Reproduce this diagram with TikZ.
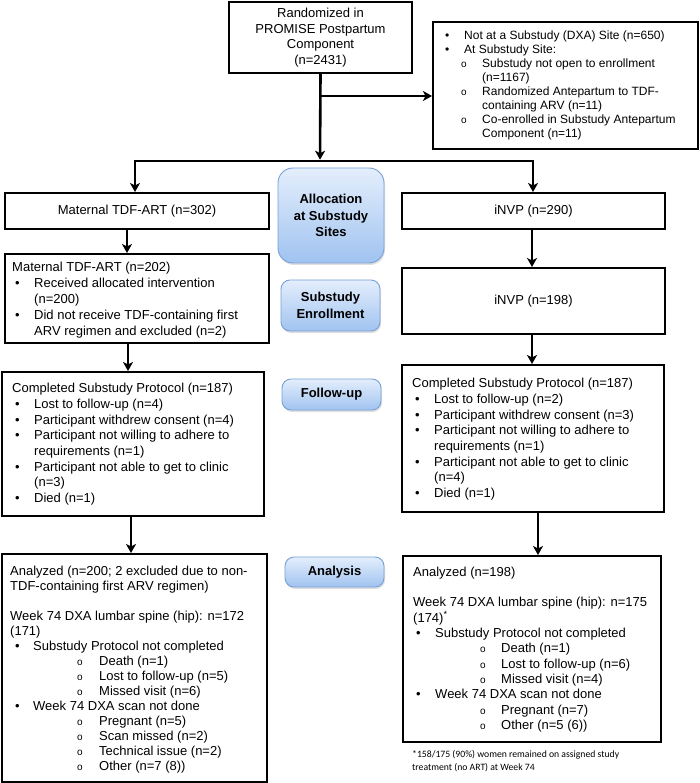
\documentclass[tikz,border=0pt]{standalone}
\usepackage{fontspec}
\setmainfont{Liberation Sans}
\newfontfamily\fnfont{Carlito}
\usetikzlibrary{arrows.meta,shadows}
\definecolor{bluetop}{RGB}{228,238,252}
\definecolor{bluebot}{RGB}{160,195,240}
\definecolor{blueedge}{RGB}{120,160,215}
\newcommand{\pbul}[2]{\hspace*{#1}\makebox[#2][l]{\textbullet}}
\newcommand{\psub}[2]{\hspace*{#1}\makebox[#2][l]{\fontsize{10}{10}\selectfont o}}
\tikzset{
  box/.style={draw, line width=2pt, inner sep=0pt, font=\fontsize{13}{15.5}\selectfont, align=center},
  txt/.style={anchor=north west, inner sep=0pt, align=left},
  lbl/.style={draw=blueedge, line width=0.9pt, rounded corners=9pt, top color=bluetop, bottom color=bluebot,
    font=\bfseries\fontsize{13}{16.7}\selectfont, align=center, inner sep=0pt,
    drop shadow={opacity=0.25, shadow xshift=1pt, shadow yshift=-2pt}},
  arr/.style={line width=2.6pt, -{Stealth[length=9pt,width=10pt,inset=2.5pt]}},
}
\begin{document}
\begin{tikzpicture}[x=1pt,y=-1pt]
\useasboundingbox (0,0) rectangle (700,783);

% boxes
\node[box, minimum width=183pt, minimum height=71pt] (top) at (320.5,37.5)
  {Randomized in\\PROMISE Postpartum\\Component\\(n=2431)};
\node[box, minimum width=265pt, minimum height=127pt] (excl) at (565.5,85.5) {};
\node[box, minimum width=264pt, minimum height=36pt] (lb1) at (137,211) {Maternal TDF-ART (n=302)};
\node[box, minimum width=263pt, minimum height=36pt] (rb1) at (533.5,211) {iNVP (n=290)};
\node[box, minimum width=264pt, minimum height=89pt] (lb2) at (137,298.5) {};
\node[box, minimum width=263pt, minimum height=66pt] (rb2) at (533.5,301) {iNVP (n=198)};
\node[box, minimum width=262pt, minimum height=144pt] (lb3) at (133,444) {};
\node[box, minimum width=262pt, minimum height=147pt] (rb3) at (533,438.5) {};
\node[box, minimum width=265pt, minimum height=228pt] (lb4) at (134.5,668) {};
\node[box, minimum width=258pt, minimum height=186pt] (rb4) at (532,649) {};

% blue labels
\node[lbl, rounded corners=15pt, minimum width=106pt, minimum height=95pt] (alloc) at (331,215.5)
  {Allocation\\at Substudy\\Sites};
\node[lbl, minimum width=99pt, minimum height=51pt] (enrol) at (330.5,305.5) {Substudy\\Enrollment};
\node[lbl, minimum width=99pt, minimum height=31pt] (follow) at (331.5,394.5) {Follow-up};
\node[lbl, minimum width=99pt, minimum height=30pt] (anal) at (334.5,572) {Analysis};

% texts
\node[txt, font=\fontsize{12}{14}\selectfont] (exclt) at (445,31) {%
\pbul{0pt}{19pt}Not at a Substudy (DXA) Site (n=650)\\
\pbul{0pt}{19pt}At Substudy Site:\\
\psub{16pt}{21pt}Substudy not open to enrollment\\
\hspace*{37pt}(n=1167)\\
\psub{16pt}{21pt}Randomized Antepartum to TDF-\\
\hspace*{37pt}containing ARV (n=11)\\
\psub{16pt}{21pt}Co-enrolled in Substudy Antepartum\\
\hspace*{37pt}Component (n=11)};

\node[txt, font=\fontsize{13}{16}\selectfont] (lb2t) at (12,262) {%
Maternal TDF-ART (n=202)\\
\pbul{3pt}{19pt}Received allocated intervention\\
\hspace*{22pt}(n=200)\\
\pbul{3pt}{19pt}Did not receive TDF-containing first\\
\hspace*{22pt}ARV regimen and excluded (n=2)};

\node[txt, font=\fontsize{13}{15.7}\selectfont] (lb3t) at (12,383) {%
Completed Substudy Protocol (n=187)\\
\pbul{3pt}{19pt}Lost to follow-up (n=4)\\
\pbul{3pt}{19pt}Participant withdrew consent (n=4)\\
\pbul{3pt}{19pt}Participant not willing to adhere to\\
\hspace*{22pt}requirements (n=1)\\
\pbul{3pt}{19pt}Participant not able to get to clinic\\
\hspace*{22pt}(n=3)\\
\pbul{3pt}{19pt}Died (n=1)};

\node[txt, font=\fontsize{13}{15.7}\selectfont] (rb3t) at (412,378) {%
Completed Substudy Protocol (n=187)\\
\pbul{3pt}{19pt}Lost to follow-up (n=2)\\
\pbul{3pt}{19pt}Participant withdrew consent (n=3)\\
\pbul{3pt}{19pt}Participant not willing to adhere to\\
\hspace*{22pt}requirements (n=1)\\
\pbul{3pt}{19pt}Participant not able to get to clinic\\
\hspace*{22pt}(n=4)\\
\pbul{3pt}{19pt}Died (n=1)};

\node[txt, font=\fontsize{13}{15}\selectfont] (lb4t) at (10,566) {%
Analyzed (n=200; 2 excluded due to non-\\
TDF-containing first ARV regimen)\\[15pt]
Week 74 DXA lumbar spine (hip): n=172\\
(171)\\
\pbul{5pt}{18pt}Substudy Protocol not completed\\
\psub{67pt}{22pt}Death (n=1)\\
\psub{67pt}{22pt}Lost to follow-up (n=5)\\
\psub{67pt}{22pt}Missed visit (n=6)\\
\pbul{5pt}{18pt}Week 74 DXA scan not done\\
\psub{67pt}{22pt}Pregnant (n=5)\\
\psub{67pt}{22pt}Scan missed (n=2)\\
\psub{67pt}{22pt}Technical issue (n=2)\\
\psub{67pt}{22pt}Other (n=7 (8))};

\node[txt, font=\fontsize{13}{15.3}\selectfont] (rb4t) at (413,567) {%
Analyzed (n=198)\\[15pt]
Week 74 DXA lumbar spine (hip): n=175\\
(174)\textsuperscript{*}\\
\pbul{3pt}{19pt}Substudy Protocol not completed\\
\psub{67pt}{21pt}Death (n=1)\\
\psub{67pt}{21pt}Lost to follow-up (n=6)\\
\psub{67pt}{21pt}Missed visit (n=4)\\
\pbul{3pt}{19pt}Week 74 DXA scan not done\\
\psub{67pt}{21pt}Pregnant (n=7)\\
\psub{67pt}{21pt}Other (n=5 (6))};

\node[txt, font=\fnfont\fontsize{9.7}{13}\selectfont] (foot) at (412,750) {%
*158/175 (90\%) women remained on assigned study\\
treatment (no ART) at Week 74};

% connectors
\coordinate (j) at (320,161);
\coordinate (b) at (320,96);
\coordinate (hl) at (135,161);
\coordinate (hr) at (533,161);
\draw[arr, shorten >=1.3pt] (top.south) -- (j);
\draw[arr] (b) -- (excl.west |- b);
\draw[line width=2.6pt, {Stealth[length=9pt,width=10pt,inset=2.5pt]}-{Stealth[length=9pt,width=10pt,inset=2.5pt]}]
  (lb1.north -| hl) -- (hl) -- (hr) -- (rb1.north -| hr);

\coordinate (xa) at (127,0);
\coordinate (xb) at (532,0);
\coordinate (xc) at (128,0);
\coordinate (xd) at (131,0);
\coordinate (xe) at (538,0);
\draw[arr] (lb1.south -| xa) -- (lb2.north -| xa);
\draw[arr] (rb1.south -| xb) -- (rb2.north -| xb);
\draw[arr] (lb2.south -| xc) -- (lb3.north -| xc);
\draw[arr] (rb2.south -| xb) -- (rb3.north -| xb);
\draw[arr] (lb3.south -| xd) -- (lb4.north -| xd);
\draw[arr] (rb3.south -| xe) -- (rb4.north -| xe);
\end{tikzpicture}
\end{document}
